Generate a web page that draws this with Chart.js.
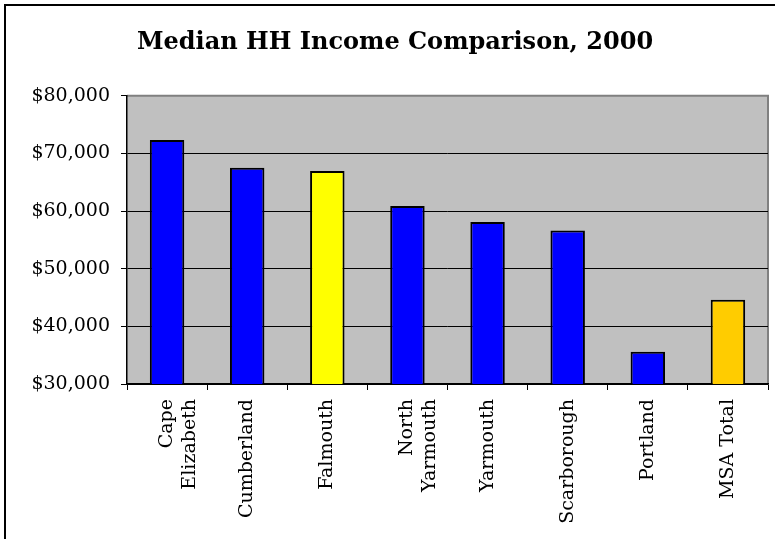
<!DOCTYPE html>
<html>
<head>
<meta charset="utf-8">
<script src="https://cdn.jsdelivr.net/npm/chart.js@4"></script>
<style>
  html, body { margin: 0; padding: 0; background: #fff; }
  #wrap { width: 775px; height: 539px; position: relative; }
</style>
</head>
<body>
<div id="wrap"><canvas id="incomeChart" width="775" height="539"></canvas></div>
<script>
// Data
const towns = [['Cape', 'Elizabeth'], 'Cumberland', 'Falmouth', ['North', 'Yarmouth'], 'Yarmouth', 'Scarborough', 'Portland', 'MSA Total'];
const medianIncome = [72350, 67500, 66950, 60900, 58100, 56650, 35600, 44600];
const yTicks = [30000, 40000, 50000, 60000, 70000, 80000];

// Bar fills (Falmouth highlighted, MSA total in orange)
const barColors = ['#0000FF', '#0000FF', '#FFFF00', '#0000FF', '#0000FF', '#0000FF', '#0000FF', '#FFCC00'];

const serif = "'DejaVu Serif', 'Liberation Serif', serif";

// Gray plot background and outer frame
const plotFrame = {
    id: 'plotFrame',
    beforeDraw(chart) {
        const { ctx, chartArea: a } = chart;
        ctx.save();
        ctx.fillStyle = '#C0C0C0';
        ctx.fillRect(a.left, a.top, a.right - a.left, a.bottom - a.top);
        ctx.strokeStyle = '#808080';
        ctx.lineWidth = 2;
        ctx.beginPath();
        ctx.moveTo(a.left, a.top);
        ctx.lineTo(a.right, a.top);
        ctx.lineTo(a.right, a.bottom);
        ctx.stroke();
        ctx.restore();
    },
    afterDraw(chart) {
        const ctx = chart.ctx;
        ctx.save();
        ctx.strokeStyle = '#000';
        ctx.lineWidth = 2;
        ctx.beginPath();
        ctx.moveTo(5, 539);
        ctx.lineTo(5, 5);
        ctx.lineTo(775, 5);
        ctx.stroke();
        ctx.restore();
    }
};

const ctx = document.getElementById('incomeChart').getContext('2d');

const incomeChart = new Chart(ctx, {
    type: 'bar',
    data: {
        labels: towns,
        datasets: [{
            label: 'Median HH Income',
            data: medianIncome,
            backgroundColor: barColors,
            borderColor: '#000',
            borderWidth: 2,
            barPercentage: 0.43,
            categoryPercentage: 1
        }]
    },
    options: {
        responsive: false,
        animation: false,
        layout: { padding: { left: 22, right: 7, top: 0, bottom: 0 } },
        plugins: {
            legend: { display: false },
            tooltip: { enabled: false },
            title: {
                display: true,
                text: 'Median HH Income Comparison, 2000',
                color: '#000',
                font: { family: serif, size: 24, weight: 'bold' },
                padding: { top: 28, bottom: 39 }
            }
        },
        scales: {
            x: {
                afterFit(scale) { scale.height = 155; },
                grid: {
                    offset: true,
                    drawOnChartArea: false,
                    drawTicks: true,
                    tickLength: 6,
                    color: '#000'
                },
                border: { color: '#000', width: 1.5 },
                ticks: {
                    color: '#000',
                    font: { family: serif, size: 19 },
                    minRotation: 90,
                    maxRotation: 90,
                    padding: 9,
                    autoSkip: false
                }
            },
            y: {
                min: 30000,
                max: 80000,
                afterFit(scale) { scale.width = 105; },
                afterBuildTicks(scale) { scale.ticks = yTicks.map(v => ({ value: v })); },
                grid: {
                    color: ctx => ctx.tick && ctx.tick.value === 80000 ? '#808080' : '#000',
                    lineWidth: 1,
                    tickLength: 6,
                    tickColor: '#000'
                },
                border: { color: '#000', width: 1.5 },
                ticks: {
                    color: '#000',
                    font: { family: serif, size: 19 },
                    padding: 11,
                    callback: v => '$' + v.toLocaleString('en-US')
                }
            }
        }
    },
    plugins: [plotFrame]
});
</script>
</body>
</html>
